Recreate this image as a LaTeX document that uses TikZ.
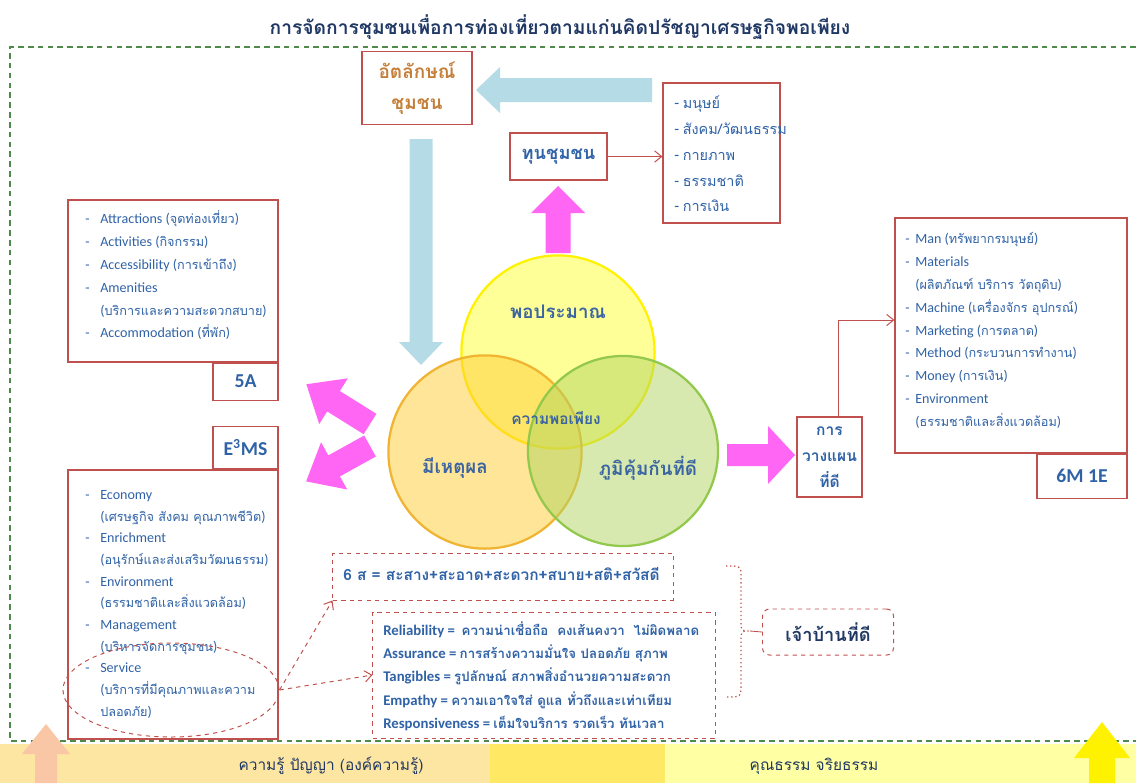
\documentclass[tikz,border=0pt]{standalone}
\usepackage{fontspec}
\setmainfont{Carlito}
\newfontfamily\thaifont[Script=Thai,Scale=0.9]{Loma}
\usepackage{tikz}
\usetikzlibrary{positioning,shapes.geometric,arrows.meta}

\definecolor{boxred}{HTML}{C0504D}
\definecolor{listblue}{HTML}{2F62A6}
\definecolor{headblue}{HTML}{3A64A2}
\definecolor{navy}{HTML}{1F3864}
\definecolor{framegreen}{HTML}{4E8A4A}
\definecolor{pinkarr}{HTML}{FF66F4}
\definecolor{bluearr}{HTML}{B5DCE6}
\definecolor{idorange}{HTML}{C57F38}
\definecolor{barorange}{HTML}{FDE6A2}
\definecolor{barmid}{HTML}{FFE964}
\definecolor{barlight}{HTML}{FFFFA3}
\definecolor{peach}{HTML}{F9C7A6}
\definecolor{yline}{HTML}{FFF200}
\definecolor{yfill}{HTML}{FFFF33}
\definecolor{oline}{HTML}{F0B432}
\definecolor{ofill}{HTML}{FFCC33}
\definecolor{gline}{HTML}{92C84C}
\definecolor{gfill}{HTML}{B0D560}

\newcommand{\tf}[1]{{\thaifont #1}}
\newcommand{\itm}{\makebox[0.375cm][l]{-}}
\newcommand{\cnt}{\hspace*{0.375cm}}
\newcommand{\mitm}{\makebox[0.25cm][l]{-}}
\newcommand{\mcnt}{\hspace*{0.25cm}}
% block arrow: colour, tail, angle, length, shaft half width, head half width, head length
\newcommand{\fatarrow}[7]{\fill[#1, shift={#2}, rotate=#3] (0,-#5) -- ({#4-#7},-#5) -- ({#4-#7},-#6) -- (#4,0) -- ({#4-#7},#6) -- ({#4-#7},#5) -- (0,#5) -- cycle;}

\begin{document}
\begin{tikzpicture}[x=0.025cm,y=-0.025cm]
	\tikzstyle{box}=[draw=boxred, line width=0.8pt, fill=white, inner sep=0]
	\tikzstyle{dbox}=[draw=boxred, dashed, line width=0.7pt, inner sep=0]
	\tikzstyle{list}=[text=listblue, align=left, inner sep=0, anchor=north west, font=\fontsize{10}{16.3}\selectfont]
	\tikzstyle{head}=[text=listblue, align=center, font=\fontsize{14}{18.4}\selectfont\bfseries]
	\tikzstyle{label}=[text=headblue, inner sep=0, font=\fontsize{14.8}{18}\selectfont\bfseries\thaifont]
	\tikzstyle{link}=[draw=boxred, line width=0.7pt, -{Straight Barb[length=5pt,width=8pt]}]
	\tikzstyle{circ}=[circle, line width=1.6pt, fill opacity=0.5, inner sep=0]
	\useasboundingbox (0,0) rectangle (1136,783);
	\fill[white] (0,0) rectangle (1136,783);
	% title and frame
	\node[text=navy, font=\fontsize{15.2}{19}\selectfont\bfseries] (title) at (560,27) {\tf{การจัดการชุมชนเพื่อการท่องเที่ยวตามแก่นคิดปรัชญาเศรษฐกิจพอเพียง}};
	\draw[framegreen, line width=1pt, dash pattern=on 4pt off 3pt] (1136,47) -- (10,47) -- (10,741) -- (1136,741);
	% bottom bar
	\fill[barorange] (0,744) rectangle (490,783);
	\fill[barmid] (490,744) rectangle (665,783);
	\fill[barlight] (665,744) rectangle (1136,783);
	\fatarrow{peach}{(46,783)}{90}{59}{11}{24}{30}
	\fatarrow{yellow}{(1102,783)}{90}{61}{13}{28}{36}
	\node[text=navy, font=\fontsize{12.2}{14}\selectfont] (knowledge) at (331,766) {\tf{ความรู้ ปัญญา (องค์ความรู้)}};
	\node[text=navy, font=\fontsize{12.2}{14}\selectfont] (virtue) at (814,766) {\tf{คุณธรรม จริยธรรม}};

	% top part
	\node[box, minimum width=2.75cm, minimum height=1.825cm, align=center, text=idorange, font=\fontsize{15}{22}\selectfont\bfseries\thaifont] (identity) at (417,88) {อัตลักษณ์\\ชุมชน};
	\fatarrow{bluearr}{(652,90)}{180}{176}{12}{23}{24}
	\fatarrow{bluearr}{(421,139)}{-90}{226}{11.5}{22}{23}
	\node[box, minimum width=2.425cm, minimum height=1.175cm, text=listblue, font=\fontsize{14.4}{18}\selectfont\bfseries\thaifont] (capital) at (558.5,156.5) {ทุนชุมชน};
	\node[box, minimum width=2.925cm, minimum height=3.5cm] (caplist) at (721.5,153) {};
	\node[list, font=\fontsize{11.4}{18.4}\selectfont] (captext) at (674,90) {\strut- \tf{มนุษย์}\\- \tf{สังคม/วัฒนธรรม}\\- \tf{กายภาพ}\\- \tf{ธรรมชาติ}\\- \tf{การเงิน}};
	\draw[link] (capital) -- (capital -| caplist.west);
	\fatarrow{pinkarr}{(558,253)}{90}{67}{12.5}{27}{27}

	% circles
	\node[circ, draw=yline, fill=yfill, minimum size=4.83cm] (moderate) at (558,352) {};
	\node[circ, draw=oline, fill=ofill, minimum size=4.83cm] (reasonable) at (485,452) {};
	\node[circ, draw=gline, fill=gfill, minimum size=4.75cm] (immune) at (623,451) {};
	\node[label] (t1) at (558,312) {พอประมาณ};
	\node[label, font=\fontsize{12.2}{16}\selectfont\bfseries\thaifont] (t2) at (556,418) {ความพอเพียง};
	\node[label] (t3) at (455,468) {มีเหตุผล};
	\node[label] (t4) at (648,468) {ภูมิคุ้มกันที่ดี};

	% left side
	\fatarrow{pinkarr}{(370,424)}{148}{75}{12}{27}{32}
	\fatarrow{pinkarr}{(370,446)}{209}{73}{12}{27}{32}
	\node[box, minimum width=5.25cm, minimum height=4.05cm] (alist) at (173,281) {};
	\node[box, minimum width=1.625cm, minimum height=0.925cm, anchor=north east, head] (alabel) at (alist.south east) {5A};
	\node[list] (atext) at (85,207) {\strut\itm Attractions (\tf{จุดท่องเที่ยว})\\
		\itm Activities (\tf{กิจกรรม})\\
		\itm Accessibility (\tf{การเข้าถึง})\\
		\itm Amenities\\
		\cnt(\tf{บริการและความสะดวกสบาย})\\
		\itm Accommodation (\tf{ที่พัก})};
	\node[box, minimum width=5.25cm, minimum height=6.725cm] (elist) at (173,604.5) {};
	\node[box, minimum width=1.625cm, minimum height=1.05cm, anchor=south east, head] (elabel) at (elist.north east) {E\textsuperscript{3}MS};
	\node[list, font=\fontsize{10}{15.4}\selectfont] (etext) at (85,484) {\strut\itm Economy\\
		\cnt(\tf{เศรษฐกิจ สังคม คุณภาพชีวิต})\\
		\itm Enrichment\\
		\cnt(\tf{อนุรักษ์และส่งเสริมวัฒนธรรม})\\
		\itm Environment\\
		\cnt(\tf{ธรรมชาติและสิ่งแวดล้อม})\\
		\itm Management\\
		\cnt(\tf{บริหารจัดการชุมชน})\\
		\itm Service\\
		\cnt(\tf{บริการที่มีคุณภาพและความ}\\
		\cnt\tf{ปลอดภัย})};
	\node[dbox, ellipse, minimum width=5.4cm, minimum height=2.35cm] (svc) at (171,690) {};

	% bottom boxes
	\node[dbox, minimum width=8.5cm, minimum height=1.175cm] (sixs) at (503,576.5) {};
	\node[list, anchor=west, font=\fontsize{12.2}{14}\selectfont\bfseries] (sixtext) at (343,574) {\tf{6 ส = สะสาง+สะอาด+สะดวก+สบาย+สติ+สวัสดี}};
	\node[dbox, minimum width=8.55cm, minimum height=3.15cm] (servq) at (544,675) {};
	\node[list, font=\fontsize{10.5}{16.5}\selectfont\bfseries] (servtext) at (383,619) {\strut Reliability =~~\tf{ความน่าเชื่อถือ~~คงเส้นคงวา~~ไม่ผิดพลาด}\\
		Assurance = \tf{การสร้างความมั่นใจ ปลอดภัย สุภาพ}\\
		Tangibles = \tf{รูปลักษณ์ สภาพสิ่งอำนวยความสะดวก}\\
		Empathy = \tf{ความเอาใจใส่ ดูแล ทั่วถึงและเท่าเทียม}\\
		Responsiveness = \tf{เต็มใจบริการ รวดเร็ว ทันเวลา}};
	\draw[link, dashed] (svc.east) -- (sixs.south west);
	\draw[link, dashed] (svc.east) -- (servq.west);
	\draw[boxred, dotted, line width=0.9pt] (726,566) .. controls (741,566) .. (741,578) -- (741,621) .. controls (741,631) .. (750,631) .. controls (741,631) .. (741,641) -- (741,685) .. controls (741,697) .. (726,697);
	\coordinate (nub) at (750,631);
	\node[dbox, rounded corners=5pt, minimum width=3.275cm, minimum height=1.15cm, text=navy, font=\fontsize{14.4}{16}\selectfont\bfseries\thaifont] (host) at (828,632) {เจ้าบ้านที่ดี};
	\draw[boxred, line width=0.6pt] (nub) -- (host.west);

	% right side
	\fatarrow{pinkarr}{(727,455)}{0}{68}{11}{29}{27}
	\node[box, minimum width=1.625cm, minimum height=2cm, align=center, text=listblue, font=\fontsize{12.3}{18.5}\selectfont\bfseries\thaifont] (plan) at (829.5,457) {การ\\วางแผน\\ที่ดี};
	\node[box, minimum width=5.8cm, minimum height=5.875cm] (mlist) at (1011,335.5) {};
	\node[box, minimum width=2.25cm, minimum height=1.1cm, anchor=north east, head] (mlabel) at (mlist.south east) {6M 1E};
	\node[list] (mtext) at (905,227) {\strut\mitm Man (\tf{ทรัพยากรมนุษย์})\\
		\mitm Materials\\
		\mcnt(\tf{ผลิตภัณฑ์ บริการ วัตถุดิบ})\\
		\mitm Machine (\tf{เครื่องจักร อุปกรณ์})\\
		\mitm Marketing (\tf{การตลาด})\\
		\mitm Method (\tf{กระบวนการทำงาน})\\
		\mitm Money (\tf{การเงิน})\\
		\mitm Environment\\
		\mcnt(\tf{ธรรมชาติและสิ่งแวดล้อม})};
	\coordinate (bend) at (838,320);
	\draw[link] (plan.north -| bend) -- (bend) -- (bend -| mlist.west);
\end{tikzpicture}
\end{document}
